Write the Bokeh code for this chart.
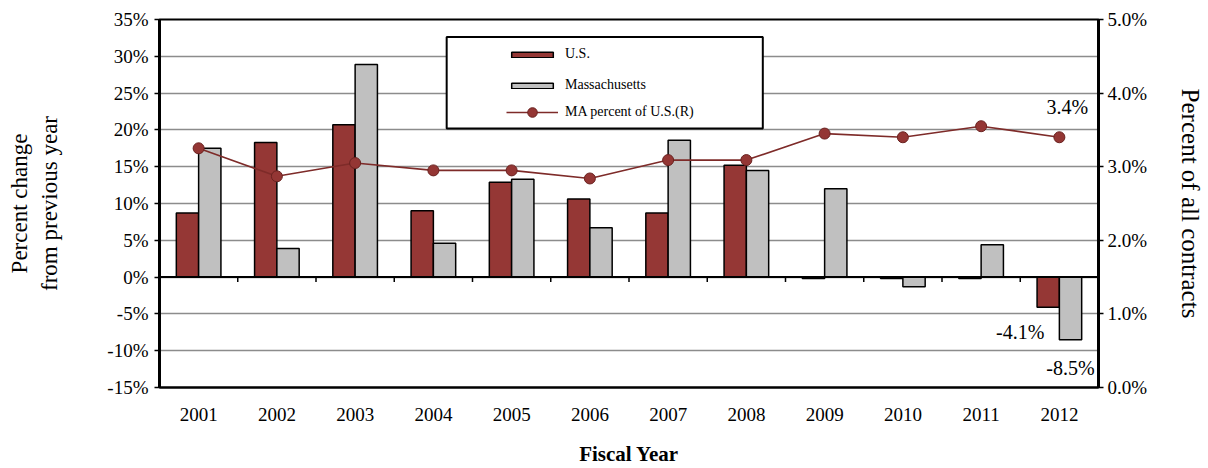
from bokeh.plotting import figure
from bokeh.models import (Range1d, LinearAxis, PrintfTickFormatter, FixedTicker, Legend,
                          LegendItem, BoxAnnotation, ColumnDataSource, Span, Label)
from bokeh.transform import dodge
from bokeh.embed import file_html
from bokeh.resources import INLINE

# ---- data ----
years = [2001, 2002, 2003, 2004, 2005, 2006, 2007, 2008, 2009, 2010, 2011, 2012]
us_change = [8.7, 18.3, 20.7, 9.0, 12.9, 10.6, 8.7, 15.2, -0.2, -0.2, -0.2, -4.1]
ma_change = [17.5, 3.9, 28.9, 4.6, 13.3, 6.7, 18.6, 14.5, 12.0, -1.3, 4.4, -8.5]
ma_share = [3.25, 2.87, 3.05, 2.95, 2.95, 2.84, 3.09, 3.09, 3.45, 3.40, 3.55, 3.40]
left_ticks = [-15, -10, -5, 0, 5, 10, 15, 20, 25, 30, 35]
right_ticks = [0, 1, 2, 3, 4, 5]

FONT = "Liberation Serif"
US_COLOR = "#953735"
MA_COLOR = "#C0C0C0"
LINE_COLOR = "#7E2B29"

src = ColumnDataSource(dict(year=years, us=us_change, ma=ma_change, share=ma_share))
bounds = ColumnDataSource(dict(x=[y + 0.5 for y in years[:-1]]))

p = figure(width=1208, height=468, output_backend="svg", toolbar_location=None,
           x_range=Range1d(years[0] - 0.5, years[-1] + 0.5),
           y_range=Range1d(left_ticks[0], left_ticks[-1]),
           min_border_left=159, min_border_right=110, min_border_top=19, min_border_bottom=81)
p.extra_y_ranges = {"share": Range1d(right_ticks[0], right_ticks[-1])}
p.outline_line_color = "black"
p.outline_line_width = 2
p.background_fill_color = "white"
p.border_fill_color = "white"

# grid
p.xgrid.visible = False
p.ygrid.ticker = FixedTicker(ticks=left_ticks)
p.ygrid.grid_line_color = "#8C8C8C"
p.ygrid.grid_line_width = 1.5

# left axis
ya = p.yaxis[0]
ya.ticker = FixedTicker(ticks=left_ticks)
ya.formatter = PrintfTickFormatter(format="%d%%")
ya.axis_line_color = "black"
ya.axis_line_width = 3
ya.major_tick_line_color = "black"
ya.major_tick_line_width = 1.5
ya.major_tick_out = 5
ya.major_tick_in = 0
ya.minor_tick_line_color = None
ya.major_label_standoff = 6
ya.major_label_text_font = FONT
ya.major_label_text_font_size = "19px"
ya.major_label_text_color = "black"
ya.axis_label = "Percent change\nfrom previous year"
ya.axis_label_text_font = FONT
ya.axis_label_text_font_size = "23px"
ya.axis_label_text_font_style = "normal"
ya.axis_label_text_color = "black"
ya.axis_label_standoff = 42

# right axis
ra = LinearAxis(y_range_name="share", ticker=FixedTicker(ticks=right_ticks),
                formatter=PrintfTickFormatter(format="%.1f%%"))
ra.axis_line_color = "black"
ra.axis_line_width = 3
ra.major_tick_line_color = "black"
ra.major_tick_line_width = 1.5
ra.major_tick_out = 5
ra.major_tick_in = 0
ra.minor_tick_line_color = None
ra.major_label_standoff = 4
ra.major_label_text_font = FONT
ra.major_label_text_font_size = "19px"
ra.major_label_text_color = "black"
ra.axis_label = "Percent of all contracts"
ra.axis_label_text_font = FONT
ra.axis_label_text_font_size = "25px"
ra.axis_label_text_font_style = "normal"
ra.axis_label_text_color = "black"
ra.axis_label_standoff = 27
p.add_layout(ra, "right")

# bottom axis
xa = p.xaxis[0]
xa.ticker = FixedTicker(ticks=years)
xa.major_tick_line_color = None
xa.minor_tick_line_color = None
xa.axis_line_color = "black"
xa.axis_line_width = 2
xa.major_label_standoff = 14
xa.major_label_text_font = FONT
xa.major_label_text_font_size = "19px"
xa.major_label_text_color = "black"
xa.axis_label = "Fiscal Year"
xa.axis_label_text_font = FONT
xa.axis_label_text_font_size = "21px"
xa.axis_label_text_font_style = "bold"
xa.axis_label_text_color = "black"
xa.axis_label_standoff = 18

# bars
r_us = p.vbar(x=dodge("year", -0.1425, range=p.x_range), top="us", bottom=0, width=0.285,
              source=src, fill_color=US_COLOR, line_color="black", line_width=1.5)
r_ma = p.vbar(x=dodge("year", 0.1425, range=p.x_range), top="ma", bottom=0, width=0.285,
              source=src, fill_color=MA_COLOR, line_color="black", line_width=1.5)

# zero line with category boundary ticks
p.add_layout(Span(location=0, dimension="width", line_color="black", line_width=2))
p.segment(x0="x", x1="x", y0=0, y1=-0.65, source=bounds, line_color="black", line_width=1.5)

# share line (right axis)
r_line = p.line("year", "share", source=src, y_range_name="share",
                line_color=LINE_COLOR, line_width=1.6)
r_pts = p.scatter("year", "share", source=src, y_range_name="share", size=11,
                  fill_color="#943634", line_color="#6A2220", line_width=1)

# data labels
p.add_layout(Label(x=years[-1], y=ma_share[-1], y_range_name="share",
                   text=f"{ma_share[-1]:.1f}%", x_offset=8, y_offset=30,
                   text_align="center", text_baseline="middle",
                   text_font=FONT, text_font_size="20px", text_color="black"))
p.add_layout(Label(x=years[-1] - 0.1425, y=us_change[-1],
                   text=f"{us_change[-1]:.1f}%", x_offset=-28, y_offset=-25,
                   text_align="center", text_baseline="middle",
                   text_font=FONT, text_font_size="20px", text_color="black"))
p.add_layout(Label(x=years[-1] + 0.1425, y=ma_change[-1],
                   text=f"{ma_change[-1]:.1f}%", x_offset=0, y_offset=-28,
                   text_align="center", text_baseline="middle",
                   text_font=FONT, text_font_size="20px", text_color="black"))

# legend box
p.add_layout(BoxAnnotation(left=2004.17, right=2008.21, top=32.62, bottom=20.19,
                           fill_color="white", fill_alpha=1.0, line_alpha=1.0,
                           line_color="black", line_width=2, level="overlay"))

leg1 = Legend(items=[LegendItem(label="U.S.", renderers=[r_us]),
                     LegendItem(label="Massachusetts", renderers=[r_ma])],
              location=(347, 294), glyph_width=52, glyph_height=7, label_height=7,
              spacing=15, padding=0, margin=0, label_standoff=7,
              border_line_color=None, background_fill_alpha=0,
              label_text_font=FONT, label_text_font_size="14px", label_text_color="black")
leg2 = Legend(items=[LegendItem(label="MA percent of U.S.(R)", renderers=[r_line, r_pts])],
              location=(347, 263), glyph_width=52, glyph_height=24, label_height=24,
              padding=0, margin=0, label_standoff=7,
              border_line_color=None, background_fill_alpha=0,
              label_text_font=FONT, label_text_font_size="14px", label_text_color="black")
p.add_layout(leg1, "center")
p.add_layout(leg2, "center")

open("out.html", "w").write(file_html(p, INLINE))
